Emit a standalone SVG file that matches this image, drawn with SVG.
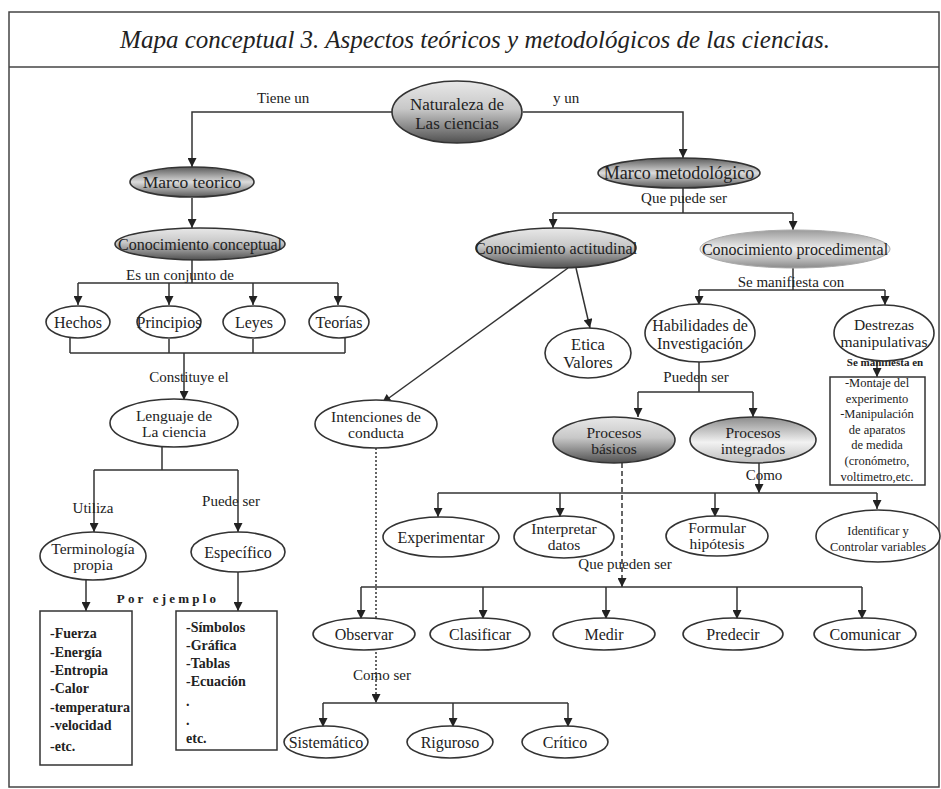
<svg xmlns="http://www.w3.org/2000/svg" width="941" height="789" viewBox="0 0 941 789">
  <style>
    text { font-family: "Liberation Serif", "Times New Roman", serif; fill: #222; }
    .t { font-size: 16px; text-anchor: middle; }
    .t2 { font-size: 15.5px; text-anchor: middle; }
    .s { font-size: 12.5px; text-anchor: middle; }
    .lbl { font-size: 15px; }
    .lst { font-size: 14px; font-weight: bold; }
    .box { font-size: 12.5px; text-anchor: middle; }
    .n { fill: #fff; stroke: #333; stroke-width: 1.6; }
    .c { fill: none; stroke: #333; stroke-width: 1.5; }
    .arr { marker-end: url(#ah); }
    .frame { fill: none; stroke: #444; stroke-width: 1.5; }
    .down { fill: url(#gDown); }
    .band { fill: url(#gBand); }
    .soft { fill: url(#gSoft); stroke: #aaa; stroke-width: 1; }
    .top { fill: url(#gTop); }
  </style>
  <defs>
    <marker id="ah" viewBox="0 0 10 10" refX="10" refY="5" markerWidth="10" markerHeight="9" markerUnits="userSpaceOnUse" orient="auto">
      <path d="M0,0 L10,5 L0,10 z" fill="#222"/>
    </marker>
    <linearGradient id="gDown" x1="0" y1="0" x2="0" y2="1">
      <stop offset="0" stop-color="#e8e8e8"/>
      <stop offset="0.45" stop-color="#c8c8c8"/>
      <stop offset="1" stop-color="#505050"/>
    </linearGradient>
    <linearGradient id="gBand" x1="0" y1="0" x2="0" y2="1">
      <stop offset="0" stop-color="#5a5a5a"/>
      <stop offset="0.5" stop-color="#dcdcdc"/>
      <stop offset="1" stop-color="#5a5a5a"/>
    </linearGradient>
    <linearGradient id="gSoft" x1="0" y1="0" x2="0" y2="1">
      <stop offset="0" stop-color="#9a9a9a"/>
      <stop offset="0.5" stop-color="#f0f0f0"/>
      <stop offset="1" stop-color="#8a8a8a"/>
    </linearGradient>
    <linearGradient id="gTop" x1="0" y1="0" x2="0" y2="1">
      <stop offset="0" stop-color="#8c8c8c"/>
      <stop offset="0.55" stop-color="#f2f2f2"/>
      <stop offset="1" stop-color="#bdbdbd"/>
    </linearGradient>
  </defs>

  <rect width="941" height="789" fill="#fff"/>

  <!-- frame and title band -->
  <g id="frame">
    <rect class="frame" x="9" y="12" width="930" height="775"/>
    <line class="frame" x1="9" y1="67" x2="939" y2="67"/>
    <text x="475" y="48" style="font-size:25px;font-style:italic;text-anchor:middle">Mapa conceptual 3. Aspectos teóricos y metodológicos de las ciencias.</text>
  </g>

  <!-- connectors -->
  <g id="connectors">
    <path class="c arr" d="M392,112 H192 V167"/>
    <path class="c arr" d="M523,112 H683 V158"/>
    <path class="c arr" d="M192,198 V228"/>
    <path class="c" d="M192,260 V283 M78,283 H338"/>
    <path class="c arr" d="M78,283 V305"/>
    <path class="c arr" d="M169,283 V305"/>
    <path class="c arr" d="M253,283 V305"/>
    <path class="c arr" d="M338,283 V305"/>
    <path class="c" d="M70,337 V353 M169,339 V353 M253,339 V353 M345,336 V353 M70,353 H345"/>
    <path class="c arr" d="M184,353 V400"/>
    <path class="c" d="M162,447 V470 M94,470 H238"/>
    <path class="c arr" d="M94,470 V532"/>
    <path class="c arr" d="M238,470 V532"/>
    <path class="c arr" d="M86,580 V611"/>
    <path class="c arr" d="M238,572 V611"/>

    <path class="c" d="M683,188 V213 M553,213 H793"/>
    <path class="c arr" d="M553,213 V228"/>
    <path class="c arr" d="M793,213 V230"/>
    <path class="c arr" d="M568,268 L382,403"/>
    <path class="c arr" d="M576,268 L590,328"/>
    <path class="c" d="M793,268 V290 M699,290 H885"/>
    <path class="c arr" d="M699,290 V305"/>
    <path class="c arr" d="M885,290 V305"/>
    <path class="c arr" d="M877,361 V377"/>
    <path class="c" d="M699,362 V392 M638,392 H753"/>
    <path class="c arr" d="M638,392 V417"/>
    <path class="c arr" d="M753,392 V417"/>

    <path class="c arr" d="M759,463 V493"/>
    <path class="c" d="M438,493 H877"/>
    <path class="c arr" d="M438,493 V517"/>
    <path class="c arr" d="M560,493 V517"/>
    <path class="c arr" d="M715,493 V517"/>
    <path class="c arr" d="M877,493 V509"/>

    <path class="c arr" d="M622,463 V587" stroke-dasharray="5,3"/>
    <path class="c" d="M361,587 H862"/>
    <path class="c arr" d="M361,587 V619"/>
    <path class="c arr" d="M483,587 V619"/>
    <path class="c arr" d="M606,587 V619"/>
    <path class="c arr" d="M737,587 V619"/>
    <path class="c arr" d="M862,587 V619"/>

    <path class="c arr" d="M376,448 V703" stroke-dasharray="2,2"/>
    <path class="c" d="M323,703 H568"/>
    <path class="c arr" d="M323,703 V727"/>
    <path class="c arr" d="M453,703 V727"/>
    <path class="c arr" d="M568,703 V727"/>
  </g>

  <!-- connector labels -->
  <g id="labels">
    <text class="lbl" x="257" y="103">Tiene un</text>
    <text class="lbl" x="553" y="103">y un</text>
    <text class="lbl" x="684" y="203" text-anchor="middle">Que puede ser</text>
    <text class="lbl" x="180" y="280" text-anchor="middle">Es un conjunto de</text>
    <text class="lbl" x="189" y="382" text-anchor="middle">Constituye el</text>
    <text class="lbl" x="791" y="287" text-anchor="middle">Se manifiesta con</text>
    <text x="885" y="366" style="font-size:11px;font-weight:bold;text-anchor:middle">Se manifiesta en</text>
    <text class="lbl" x="696" y="382" text-anchor="middle">Pueden ser</text>
    <text class="lbl" x="764" y="480" text-anchor="middle">Como</text>
    <text class="lbl" x="625" y="569" text-anchor="middle">Que pueden ser</text>
    <text class="lbl" x="93" y="513" text-anchor="middle">Utiliza</text>
    <text class="lbl" x="231" y="506" text-anchor="middle">Puede ser</text>
    <text x="168" y="603" style="font-size:13px;font-weight:bold;letter-spacing:3.2px;text-anchor:middle">Por ejemplo</text>
    <text class="lbl" x="382" y="680" text-anchor="middle">Como ser</text>
  </g>

  <!-- nodes -->
  <g id="naturaleza">
    <ellipse class="n down" cx="457" cy="112" rx="65" ry="31"/>
    <text class="t2" x="457" y="110" style="font-size:17px">Naturaleza de</text>
    <text class="t2" x="457" y="129" style="font-size:17px">Las ciencias</text>
  </g>
  <g id="marco-teorico">
    <ellipse class="n band" cx="192" cy="182" rx="62" ry="15"/>
    <text class="t" x="192" y="188" style="font-size:17.5px">Marco teorico</text>
  </g>
  <g id="marco-metodologico">
    <ellipse class="n band" cx="679" cy="173" rx="81" ry="15"/>
    <text class="t" x="679" y="179" style="font-size:18px">Marco metodológico</text>
  </g>
  <g id="conocimiento-conceptual">
    <ellipse class="n down" cx="200" cy="244" rx="85" ry="16"/>
    <text class="t" x="200" y="250">Conocimiento conceptual</text>
  </g>
  <g id="hechos">
    <ellipse class="n" cx="78" cy="322" rx="32" ry="16"/>
    <text class="t" x="78" y="328">Hechos</text>
  </g>
  <g id="principios">
    <ellipse class="n" cx="169" cy="322" rx="32" ry="16"/>
    <text class="t" x="169" y="328">Principios</text>
  </g>
  <g id="leyes">
    <ellipse class="n" cx="254" cy="322" rx="31" ry="16"/>
    <text class="t" x="254" y="328">Leyes</text>
  </g>
  <g id="teorias">
    <ellipse class="n" cx="339" cy="322" rx="30" ry="16"/>
    <text class="t" x="339" y="328">Teorías</text>
  </g>
  <g id="lenguaje">
    <ellipse class="n" cx="174" cy="423" rx="64" ry="24"/>
    <text class="t2" x="174" y="421">Lenguaje de</text>
    <text class="t2" x="174" y="437">La ciencia</text>
  </g>
  <g id="terminologia">
    <ellipse class="n" cx="93" cy="556" rx="53" ry="24"/>
    <text class="t2" x="93" y="554">Terminología</text>
    <text class="t2" x="93" y="570">propia</text>
  </g>
  <g id="especifico">
    <ellipse class="n" cx="238" cy="552" rx="47" ry="20"/>
    <text class="t" x="238" y="558">Específico</text>
  </g>
  <g id="terminos">
    <rect x="40" y="611" width="92" height="154" fill="#fff" stroke="#333" stroke-width="1.5"/>
    <text class="lst" x="50" y="638">-Fuerza</text>
    <text class="lst" x="50" y="657">-Energía</text>
    <text class="lst" x="50" y="675">-Entropia</text>
    <text class="lst" x="50" y="693">-Calor</text>
    <text class="lst" x="50" y="712">-temperatura</text>
    <text class="lst" x="50" y="730">-velocidad</text>
    <text class="lst" x="50" y="751">-etc.</text>
  </g>
  <g id="simbolos">
    <rect x="176" y="611" width="101" height="139" fill="#fff" stroke="#333" stroke-width="1.5"/>
    <text class="lst" x="186" y="632">-Símbolos</text>
    <text class="lst" x="186" y="650">-Gráfica</text>
    <text class="lst" x="186" y="668">-Tablas</text>
    <text class="lst" x="186" y="686">-Ecuación</text>
    <text class="lst" x="186" y="706">.</text>
    <text class="lst" x="186" y="725">.</text>
    <text class="lst" x="186" y="743">etc.</text>
  </g>

  <g id="conocimiento-actitudinal">
    <ellipse class="n down" cx="556" cy="248" rx="80" ry="20"/>
    <text class="t" x="556" y="254">Conocimiento actitudinal</text>
  </g>
  <g id="conocimiento-procedimental">
    <ellipse class="soft" cx="795" cy="249" rx="95" ry="19"/>
    <text class="t" x="795" y="255">Conocimiento procedimental</text>
  </g>
  <g id="etica">
    <ellipse class="n" cx="588" cy="353" rx="43" ry="25"/>
    <text class="t2" x="588" y="350" style="font-size:16.5px">Etica</text>
    <text class="t2" x="588" y="368" style="font-size:16.5px">Valores</text>
  </g>
  <g id="intenciones">
    <ellipse class="n" cx="376" cy="424" rx="61" ry="24"/>
    <text class="t2" x="376" y="422">Intenciones de</text>
    <text class="t2" x="376" y="438">conducta</text>
  </g>
  <g id="habilidades">
    <ellipse class="n" cx="700" cy="333" rx="55" ry="29"/>
    <text class="t2" x="700" y="331" style="font-size:16px">Habilidades de</text>
    <text class="t2" x="700" y="348.5" style="font-size:16px">Investigación</text>
  </g>
  <g id="destrezas">
    <ellipse class="n" cx="884" cy="333" rx="50" ry="28"/>
    <text class="t2" x="884" y="330" style="font-size:15.5px">Destrezas</text>
    <text class="t2" x="884" y="347" style="font-size:15.5px">manipulativas</text>
  </g>
  <g id="destrezas-ejemplos">
    <rect x="830" y="377" width="95" height="108" fill="#fff" stroke="#333" stroke-width="1.5"/>
    <text class="box" x="877" y="387">-Montaje del</text>
    <text class="box" x="877" y="403">experimento</text>
    <text class="box" x="877" y="418">-Manipulación</text>
    <text class="box" x="877" y="434">de aparatos</text>
    <text class="box" x="877" y="449">de medida</text>
    <text class="box" x="877" y="465">(cronómetro,</text>
    <text class="box" x="877" y="481">voltimetro,etc.</text>
  </g>
  <g id="procesos-basicos">
    <ellipse class="n down" cx="614" cy="440" rx="61" ry="23"/>
    <text class="t2" x="614" y="438">Procesos</text>
    <text class="t2" x="614" y="454">básicos</text>
  </g>
  <g id="procesos-integrados">
    <ellipse class="n top" cx="753" cy="440" rx="63" ry="23"/>
    <text class="t2" x="753" y="438">Procesos</text>
    <text class="t2" x="753" y="454">integrados</text>
  </g>
  <g id="experimentar">
    <ellipse class="n" cx="441" cy="537" rx="58" ry="20"/>
    <text class="t" x="441" y="543">Experimentar</text>
  </g>
  <g id="interpretar">
    <ellipse class="n" cx="564" cy="537" rx="50" ry="21"/>
    <text class="t2" x="564" y="534">Interpretar</text>
    <text class="t2" x="564" y="550">datos</text>
  </g>
  <g id="formular">
    <ellipse class="n" cx="717" cy="536" rx="51" ry="20"/>
    <text class="t2" x="717" y="533">Formular</text>
    <text class="t2" x="717" y="549">hipótesis</text>
  </g>
  <g id="identificar">
    <ellipse class="n" cx="878" cy="536" rx="62" ry="26"/>
    <text class="s" x="878" y="535">Identificar y</text>
    <text class="s" x="878" y="551">Controlar variables</text>
  </g>
  <g id="observar">
    <ellipse class="n" cx="364" cy="634" rx="51" ry="16"/>
    <text class="t" x="364" y="640">Observar</text>
  </g>
  <g id="clasificar">
    <ellipse class="n" cx="480" cy="634" rx="50" ry="16"/>
    <text class="t" x="480" y="640">Clasificar</text>
  </g>
  <g id="medir">
    <ellipse class="n" cx="604" cy="634" rx="51" ry="16"/>
    <text class="t" x="604" y="640">Medir</text>
  </g>
  <g id="predecir">
    <ellipse class="n" cx="733" cy="634" rx="50" ry="16"/>
    <text class="t" x="733" y="640">Predecir</text>
  </g>
  <g id="comunicar">
    <ellipse class="n" cx="865" cy="634" rx="51" ry="16"/>
    <text class="t" x="865" y="640">Comunicar</text>
  </g>
  <g id="sistematico">
    <ellipse class="n" cx="326" cy="742" rx="42" ry="16"/>
    <text class="t" x="326" y="748">Sistemático</text>
  </g>
  <g id="riguroso">
    <ellipse class="n" cx="450" cy="742" rx="43" ry="16"/>
    <text class="t" x="450" y="748">Riguroso</text>
  </g>
  <g id="critico">
    <ellipse class="n" cx="565" cy="742" rx="43" ry="16"/>
    <text class="t" x="565" y="748">Crítico</text>
  </g>
</svg>
